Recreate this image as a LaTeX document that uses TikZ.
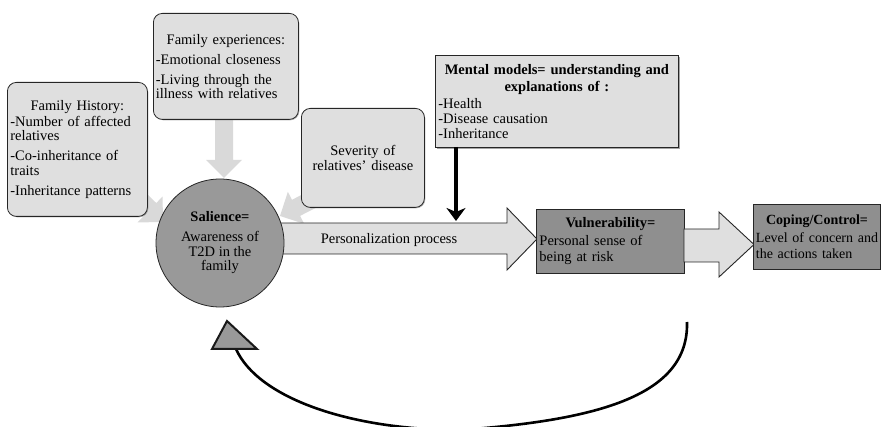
\documentclass[tikz,border=0pt]{standalone}
\usepackage{fontspec}
\setmainfont{Liberation Serif}
\usetikzlibrary{arrows.meta,shadows}
\begin{document}
\begin{tikzpicture}[x=1pt,y=-1pt,font=\fontsize{14.5}{14.5}\selectfont]
\useasboundingbox (0,0) rectangle (881,427);
\tikzset{
  rbox/.style={draw=black!85, fill=gray!25, rounded corners=9, line width=0.8,
    inner xsep=3, inner ysep=2, anchor=north west, align=left,
    drop shadow={shadow xshift=0.9pt, shadow yshift=-0.9pt, fill=black!55}},
  sbox/.style={draw=black!85, fill=gray!25, line width=0.8,
    inner xsep=3, inner ysep=2, anchor=north west, align=left,
    drop shadow={shadow xshift=1.2pt, shadow yshift=-1.2pt, fill=black!70}},
  dbox/.style={draw=black!85, fill=gray!88, line width=0.9,
    inner xsep=3, inner ysep=2, anchor=north west, align=left},
  garrow/.style={fill=gray!30, draw=none},
  parrow/.style={fill=gray!25, draw=black!85, line width=0.9},
}
% light gray block arrows behind the boxes
\begin{scope}[shift={(163,222)}, rotate=-44]
  \path[garrow] (0,0) -- (-18,-18) -- (-18,-9) -- (-75,-9) -- (-75,9) -- (-18,9) -- (-18,18) -- cycle;
\end{scope}
\begin{scope}[shift={(280,216)}, rotate=207]
  \path[garrow] (0,0) -- (-18,-18) -- (-18,-9) -- (-75,-9) -- (-75,9) -- (-18,9) -- (-18,18) -- cycle;
\end{scope}
\path[garrow] (215,115) -- (233,115) -- (233,160) -- (242,160) -- (224,178) -- (206,160) -- (215,160) -- cycle;

% Family history
\node[rbox, minimum width=140, minimum height=134, text width=134] (fh) at (7,82) {%
{\centering Family History:\par}\vspace{1.5pt}%
-Number of affected\\relatives\par\vspace{5.5pt}%
-Co-inheritance of\\traits\par\vspace{5.5pt}%
-Inheritance patterns};

% Family experiences
\node[rbox, minimum width=145, minimum height=106, text width=140, inner xsep=2.5] (fe) at (153,13) {%
{\centering Family experiences:\par}\vspace{5.5pt}%
-Emotional closeness\par\vspace{5.5pt}%
-Living through the\\illness with relatives};

% Severity
\node[rbox, minimum width=123, minimum height=99, text width=117, align=center] (sev) at (301,108) {%
Severity of\\relatives’ disease};

% Mental models
\node[sbox, minimum width=243, minimum height=92, text width=237] (mm) at (435,55) {%
{\centering\bfseries Mental models= understanding and\\[2.5pt]explanations of :\par}\vspace{2.5pt}%
-Health\\[0.5pt]-Disease causation\\[0.5pt]-Inheritance\par\vspace*{12pt}};

% Personalization block arrow
\path[parrow] (270,223) -- (507,223) -- (507,208) -- (537,239) -- (507,270) -- (507,254) -- (270,254) -- cycle;
\node (pp) at (389,240) {Personalization process};

% Salience circle
\node[circle, draw=black!85, fill=gray!80, line width=0.8, minimum size=128, align=center, inner sep=0] (sal) at (220,243) {%
{\bfseries Salience=}\\[5.5pt]Awareness of\\T2D in the\\family};

% mental models arrow
\coordinate (mmtop) at (456,147);
\coordinate (mmtip) at (456,221);
\draw[line width=3.5, -{Stealth[length=13pt,width=19pt,inset=4pt]}] (mmtop) -- (mmtip);

% Vulnerability
\node[dbox, minimum width=148, minimum height=64, text width=142] (vul) at (536,209) {%
{\centering\bfseries Vulnerability=\par}\vspace{3.5pt}%
Personal sense of\\[1.5pt]being at risk};

% second block arrow
\path[parrow] (684,229) -- (719,229) -- (719,212) -- (754,244.5) -- (719,277) -- (719,262) -- (684,262) -- cycle;

% Coping
\node[dbox, minimum width=127, minimum height=65, text width=122, inner xsep=2.5,
      font=\fontsize{14}{14.5}\selectfont] (cop) at (753,204) {%
{\centering\bfseries Coping/Control=\par}\vspace{3.5pt}%
\mbox{Level of concern and}\\[1.5pt]the actions taken};

% feedback curve
\coordinate (fbs) at (687,322);
\coordinate (fbm) at (460,430);
\coordinate (fbe) at (236,349);
\draw[line width=2.6] (fbs) .. controls (689,395) and (600,420) .. (fbm) .. controls (350,430) and (258,398) .. (fbe);
\path[fill=gray!80, draw=black!90, line width=2, line join=miter] (212,349) -- (257,349) -- (227,321) -- cycle;
\end{tikzpicture}
\end{document}
